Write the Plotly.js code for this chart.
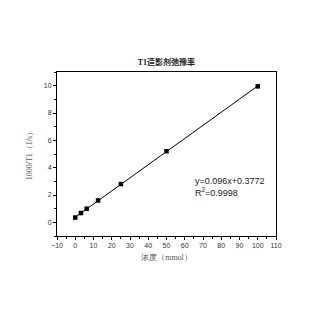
<!DOCTYPE html>
<html><head><meta charset="utf-8">
<script src="https://cdn.plot.ly/plotly-3.0.1.min.js"></script>
<style>html,body{margin:0;padding:0;background:#fff}#c{width:320px;height:320px}</style>
</head><body><div id="c"></div>
<script>
const conc = [0, 3.125, 6.25, 12.5, 25, 50, 100];
const rate = [0.35, 0.68, 1.0, 1.6, 2.8, 5.2, 9.95];
const fitX = [0, 100];
const fitY = [0.3772, 9.9772];
const eqText = "y=0.096x+0.3772<br>R<sup>2</sup>=0.9998";
const titleText = "<b>T1造影剂弛豫率</b>";
const xTitle = "浓度（mmol）";
const yTitle = "1000/T1（1/s）";

const axisCommon = {
  showline: true, linecolor: '#000', linewidth: 1, mirror: true,
  ticks: 'outside', ticklen: 3, tickwidth: 1, tickcolor: '#000',
  showgrid: false, zeroline: false,
  tickfont: {family: 'Liberation Sans, Arial', size: 7, color: '#333'},
  minor: {ticks: 'outside', ticklen: 2, tickwidth: 1, tickcolor: '#000'}
};
Plotly.newPlot('c', [
  {x: fitX, y: fitY, mode: 'lines', line: {color: '#000', width: 1}, hoverinfo: 'skip'},
  {x: conc, y: rate, mode: 'markers', marker: {symbol: 'square', size: 4.5, color: '#000'}}
], {
  width: 320, height: 320, showlegend: false,
  paper_bgcolor: '#fff', plot_bgcolor: '#fff',
  margin: {l: 57, r: 44, t: 72, b: 84},
  title: {text: titleText, font: {family: 'Liberation Serif, Noto Sans CJK SC, serif', size: 8, color: '#222'}, x: 0.52, xanchor: 'center', y: 0.805, yanchor: 'middle'},
  xaxis: Object.assign({}, axisCommon, {range: [-10, 110], tickmode: 'linear', tick0: 0, dtick: 10,
    minor: Object.assign({}, axisCommon.minor, {dtick: 5}),
    title: {text: xTitle, font: {family: 'Liberation Serif, serif', size: 8, color: '#555'}, standoff: 5}}),
  yaxis: Object.assign({}, axisCommon, {range: [-1, 11], tickmode: 'linear', tick0: 0, dtick: 2,
    minor: Object.assign({}, axisCommon.minor, {dtick: 1}),
    title: {text: yTitle, font: {family: 'Liberation Serif, serif', size: 8, color: '#555'}, standoff: 10}}),
  annotations: [{x: 0.62, y: 0.38, xref: 'paper', yref: 'paper', xanchor: 'left', yanchor: 'top', align: 'left',
    showarrow: false, text: eqText, font: {family: 'Liberation Sans, Arial', size: 9, color: '#222'}}]
}, {staticPlot: true});
</script></body></html>
